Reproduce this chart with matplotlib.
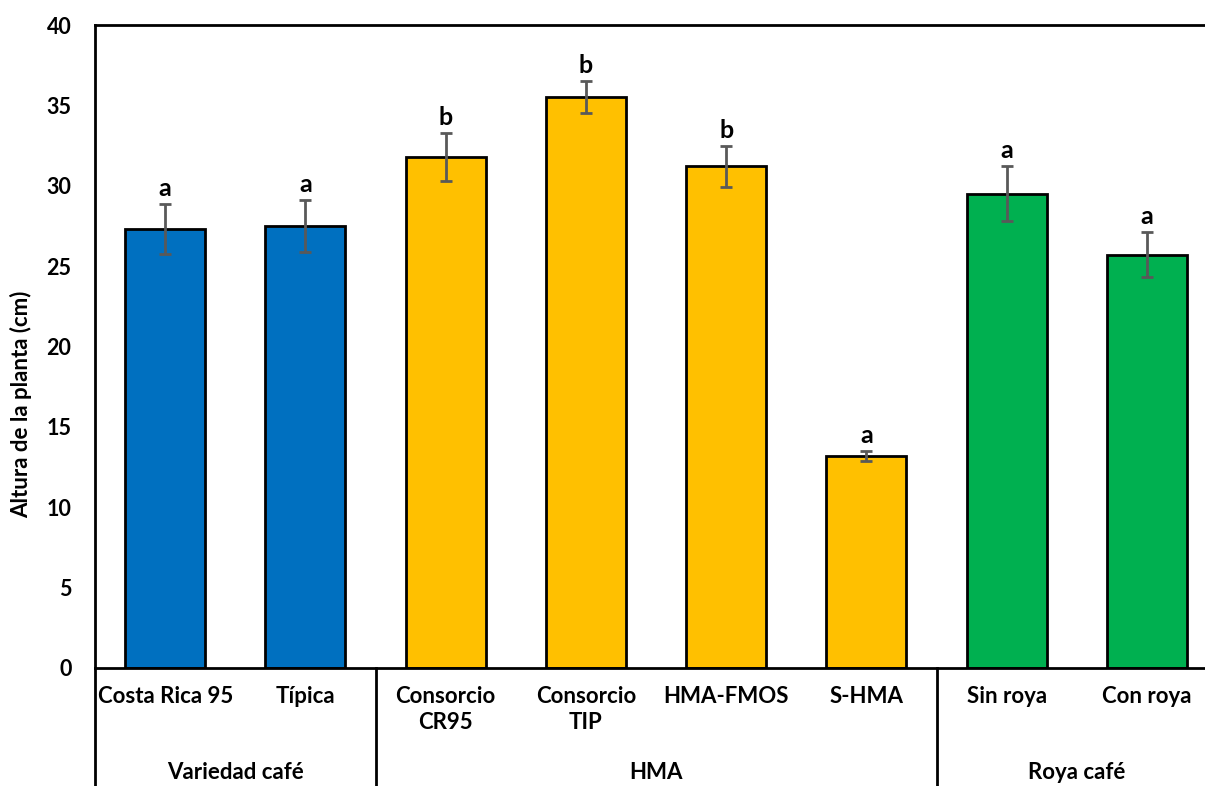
import matplotlib
matplotlib.use("Agg")
import matplotlib.pyplot as plt
from matplotlib.transforms import blended_transform_factory

plt.rcParams['font.family'] = ['Lato', 'DejaVu Sans']
plt.rcParams['font.weight'] = 'bold'

categories = ["Costa Rica 95", "Típica", "Consorcio\nCR95", "Consorcio\nTIP",
              "HMA-FMOS", "S-HMA", "Sin roya", "Con roya"]
values = [27.3, 27.5, 31.8, 35.5, 31.2, 13.2, 29.5, 25.7]
errors = [1.55, 1.6, 1.5, 1.0, 1.25, 0.3, 1.7, 1.4]
letters = ["a", "a", "b", "b", "b", "a", "a", "a"]
colors = ["#0070C0", "#0070C0", "#FFC000", "#FFC000", "#FFC000", "#FFC000",
          "#00B050", "#00B050"]
groups = ["Variedad café", "HMA", "Roya café"]
group_sizes = [2, 4, 2]
yticks = [0, 5, 10, 15, 20, 25, 30, 35, 40]

W, H = 1205, 786
fig = plt.figure(figsize=(W / 100, H / 100), dpi=100)
ax = fig.add_axes([95 / W, 1 - 668 / H, (1217 - 95) / W, (668 - 25) / H])

x = list(range(len(values)))
ax.bar(x, values, width=0.57, color=colors, edgecolor="black", linewidth=2, zorder=2)
ax.errorbar(x, values, yerr=errors, fmt="none", ecolor="#595959", elinewidth=2,
            capsize=4, capthick=2, zorder=3)
for xi, v, e, l in zip(x, values, errors, letters):
    ax.annotate(l, (xi, v + e), xytext=(0, 3), textcoords="offset points",
                ha="center", va="bottom", fontsize=18, fontweight="bold")

ax.set_xlim(-0.5, len(values) - 0.5)
ax.set_ylim(0, 40)
ax.set_yticks(yticks)
ax.set_yticklabels([str(t) for t in yticks], fontsize=15.5, fontweight="bold")
ax.set_xticks(x)
ax.set_xticklabels(categories, fontsize=16, fontweight="bold", linespacing=1.3)
ax.tick_params(axis="x", length=0, pad=13)
ax.tick_params(axis="y", length=0, pad=17)
for s in ["left", "top", "bottom", "right"]:
    ax.spines[s].set_linewidth(2)
ax.set_ylabel("Altura de la planta (cm)", fontsize=16, fontweight="bold")
ax.yaxis.set_label_coords(-0.056, 0.41)

trans = blended_transform_factory(ax.transData, ax.transAxes)
start = -0.5
for g, n in zip(groups, group_sizes):
    ax.plot([start, start], [0, -0.3], transform=trans, color="black", lw=2,
            clip_on=False)
    ax.text(start + n / 2, -0.163, g, transform=trans, ha="center", va="center",
            fontsize=16, fontweight="bold")
    start += n
ax.plot([start, start], [0, -0.3], transform=trans, color="black", lw=2, clip_on=False)

fig.savefig("out.png", dpi=100)
